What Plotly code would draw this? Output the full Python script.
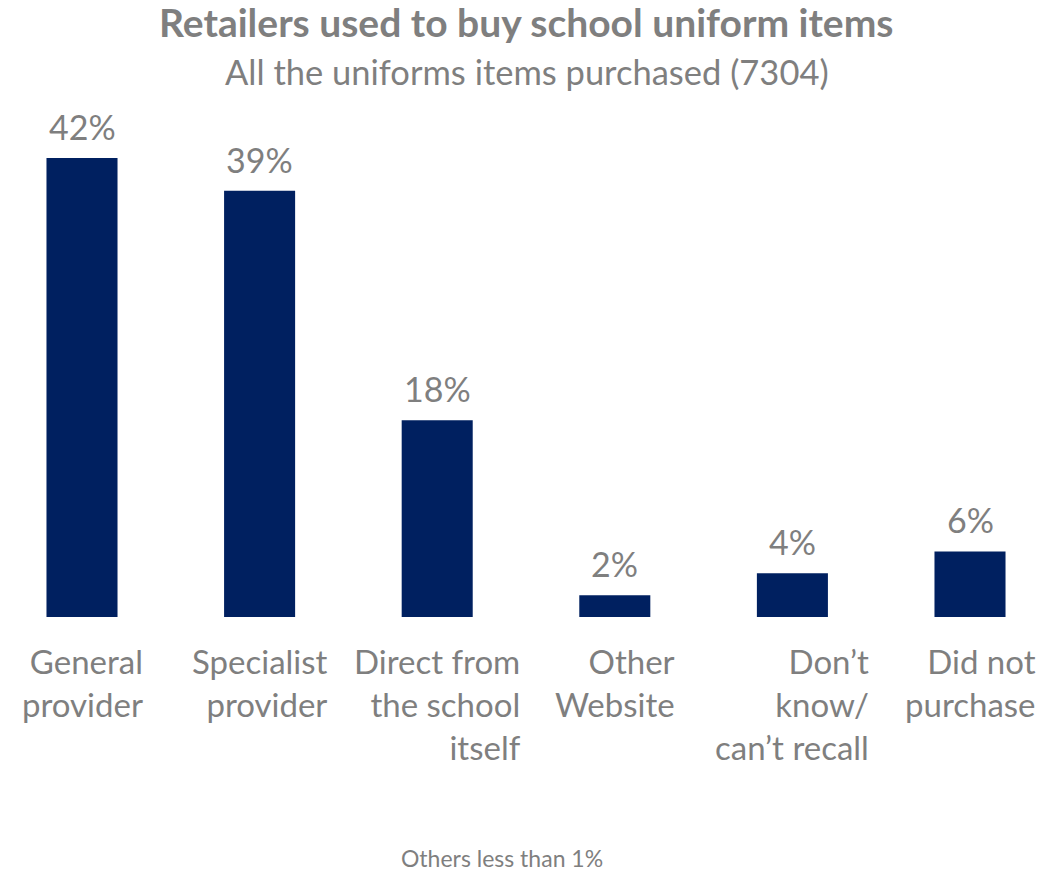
import plotly.graph_objects as go

# Retailer categories (multi-line labels) and share of uniform items purchased
categories = [
    "General<br>provider",
    "Specialist<br>provider",
    "Direct from<br>the school<br>itself",
    "Other<br>Website",
    "Don’t<br>know/<br>can’t recall",
    "Did not<br>purchase",
]
shares = [42, 39, 18, 2, 4, 6]
value_labels = ["42%", "39%", "18%", "2%", "4%", "6%"]

title_text = "Retailers used to buy school uniform items"
subtitle_text = "All the uniforms items purchased (7304)"
footnote_text = "Others less than 1%"

NAVY = "#002060"
GREY = "#7f7f7f"
FONT = "Lato, 'Open Sans', sans-serif"

x_pos = list(range(len(categories)))

fig = go.Figure()
fig.add_trace(go.Bar(
    x=x_pos,
    y=shares,
    width=0.4,
    marker=dict(color=NAVY, line=dict(width=0)),
    hoverinfo="skip",
))

annotations = []
# value labels above each bar
for xi, v, lab in zip(x_pos, shares, value_labels):
    annotations.append(dict(
        x=xi, y=v, xref="x", yref="y", text=lab, showarrow=False,
        xanchor="center", yanchor="bottom", yshift=9,
        font=dict(family=FONT, size=34, color=GREY),
    ))
# category labels: block centred on the bar, lines right-aligned
for xi, cat in zip(x_pos, categories):
    annotations.append(dict(
        x=xi, y=0, xref="x", yref="y", text=cat, showarrow=False,
        xanchor="center", yanchor="top", yshift=-22, align="right",
        font=dict(family=FONT, size=33, color=GREY),
    ))
# titles and footnote (y given in pixels from the top, converted below)
annotations += [
    dict(x=0.504, y=22, xref="paper", yref="paper", text="<b>" + title_text + "</b>",
         showarrow=False, xanchor="center", yanchor="middle",
         font=dict(family=FONT, size=39, color=GREY)),
    dict(x=0.504, y=72, xref="paper", yref="paper", text=subtitle_text,
         showarrow=False, xanchor="center", yanchor="middle",
         font=dict(family=FONT, size=34.5, color=GREY)),
    dict(x=0.48, y=858, xref="paper", yref="paper", text=footnote_text,
         showarrow=False, xanchor="center", yanchor="middle",
         font=dict(family=FONT, size=23, color=GREY)),
]

H = 874
T, B = 100, 257
plot_h = H - T - B
for a in annotations:
    if a.get("yref") == "paper":
        a["y"] = (H - a["y"] - B) / plot_h

fig.update_layout(
    width=1045, height=874,
    margin=dict(l=0, r=0, t=T, b=B, pad=0),
    paper_bgcolor="white", plot_bgcolor="white",
    showlegend=False,
    xaxis=dict(range=[-82 / 177.6, (1045 - 82) / 177.6], showticklabels=False,
               showgrid=False, zeroline=False, showline=False, ticks=""),
    yaxis=dict(range=[0, plot_h / 10.93], showticklabels=False, showgrid=False,
               zeroline=False, showline=False, ticks=""),
    annotations=annotations,
)

fig.write_html("out.html")
